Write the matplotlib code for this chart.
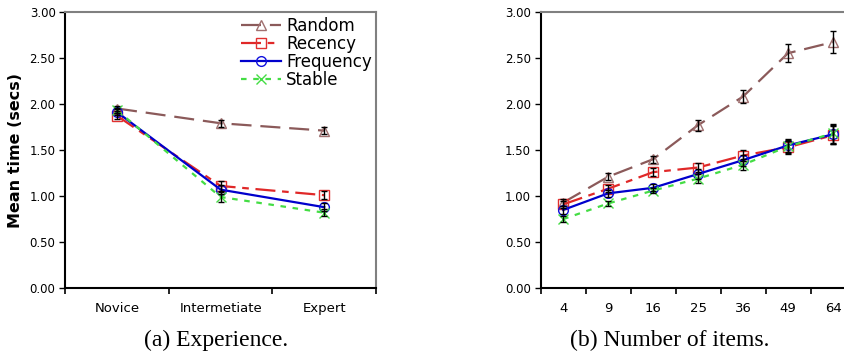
import matplotlib
matplotlib.use("Agg")
import matplotlib.pyplot as plt
import numpy as np

# ---- data ----
exp_labels = ["Novice", "Intermetiate", "Expert"]
exp_random = [1.95, 1.79, 1.71]
exp_recency = [1.87, 1.11, 1.01]
exp_frequency = [1.91, 1.07, 0.88]
exp_stable = [1.93, 0.99, 0.82]
exp_random_err = [0.03, 0.04, 0.04]
exp_recency_err = [0.03, 0.05, 0.04]
exp_frequency_err = [0.03, 0.05, 0.04]
exp_stable_err = [0.03, 0.05, 0.04]

items_labels = ["4", "9", "16", "25", "36", "49", "64"]
items_random = [0.93, 1.21, 1.40, 1.77, 2.08, 2.55, 2.67]
items_recency = [0.91, 1.08, 1.26, 1.31, 1.44, 1.53, 1.66]
items_frequency = [0.85, 1.03, 1.09, 1.24, 1.39, 1.55, 1.67]
items_stable = [0.75, 0.92, 1.06, 1.19, 1.34, 1.54, 1.68]
items_random_err = [0.04, 0.04, 0.04, 0.06, 0.07, 0.10, 0.12]
items_recency_err = [0.04, 0.04, 0.04, 0.05, 0.06, 0.07, 0.10]
items_frequency_err = [0.04, 0.04, 0.04, 0.05, 0.06, 0.07, 0.10]
items_stable_err = [0.03, 0.03, 0.03, 0.05, 0.06, 0.07, 0.10]

series_names = ["Random", "Recency", "Frequency", "Stable"]

styles = {
    "Random": dict(color="#8B5A5A", dashes=(9, 4), marker="^", mec="#A07070"),
    "Recency": dict(color="#E02828", dashes=(9, 3, 3, 3), marker="s", mec="#E03030"),
    "Frequency": dict(color="#0000CC", dashes=None, marker="o", mec="#1010DD"),
    "Stable": dict(color="#44DD44", dashes=(2.5, 3), marker="x", mec="#44DD44"),
}

fig = plt.figure(figsize=(8.44, 3.56), dpi=100)
ax1 = fig.add_axes([65.3 / 844, 67.7 / 356, (376 - 65.3) / 844, (288.3 - 11.7) / 356])
ax2 = fig.add_axes([540.7 / 844, 67.7 / 356, (855.5 - 540.7) / 844, (288.3 - 11.7) / 356])


def draw(ax, labels, data, errs):
    x = np.arange(len(labels))
    handles = []
    for name, vals, err in zip(series_names, data, errs):
        st = styles[name]
        kw = dict(color=st["color"], lw=1.6, marker=st["marker"], ms=7,
                  mfc="none", mec=st["mec"], mew=1.0, label=name, zorder=3)
        if st["dashes"] is None:
            kw["linestyle"] = "-"
        else:
            kw["dashes"] = st["dashes"]
        (ln,) = ax.plot(x, vals, **kw)
        handles.append(ln)
        ax.errorbar(x, vals, yerr=err, fmt="none", ecolor="black", elinewidth=1.0,
                    capsize=2.5, capthick=1.0, zorder=4)
    ax.set_xlim(-0.5, len(labels) - 0.5)
    ax.set_ylim(0, 3.0)
    ax.set_yticks(np.arange(0, 3.01, 0.5))
    ax.set_yticklabels([f"{v:.2f}" for v in np.arange(0, 3.01, 0.5)], fontsize=8.5)
    ax.set_xticks(np.arange(-0.5, len(labels), 1.0))
    ax.set_xticklabels([])
    ax.set_xticks(x, minor=True)
    ax.set_xticklabels(labels, minor=True, fontsize=9.5)
    ax.tick_params(axis="x", which="minor", length=0, pad=10)
    ax.tick_params(axis="x", which="major", length=4, width=1.2, direction="out")
    ax.tick_params(axis="y", length=4, width=1.0, direction="out", pad=3)
    for s in ["left", "bottom"]:
        ax.spines[s].set_color("black")
        ax.spines[s].set_linewidth(1.5)
    for s in ["top", "right"]:
        ax.spines[s].set_color("#808080")
        ax.spines[s].set_linewidth(1.5)
    return handles


h = draw(ax1, exp_labels, [exp_random, exp_recency, exp_frequency, exp_stable],
         [exp_random_err, exp_recency_err, exp_frequency_err, exp_stable_err])
draw(ax2, items_labels, [items_random, items_recency, items_frequency, items_stable],
     [items_random_err, items_recency_err, items_frequency_err, items_stable_err])

ax1.set_ylabel("Mean time (secs)", fontsize=11.5, fontweight="bold")
ax1.yaxis.set_label_coords(-0.136, 0.5)
ax1.legend(handles=h, loc="upper right", frameon=False, fontsize=12,
           handlelength=2.4, handletextpad=0.3, labelspacing=0.0,
           borderaxespad=0.0, bbox_to_anchor=(1.008, 1.005))

fig.text(216 / 844, 1 - 340 / 356, "(a) Experience.", ha="center", va="center",
         fontsize=17, family="Liberation Serif")
fig.text(670 / 844, 1 - 340 / 356, "(b) Number of items.", ha="center", va="center",
         fontsize=17, family="Liberation Serif")

fig.savefig("out.png", dpi=100)
